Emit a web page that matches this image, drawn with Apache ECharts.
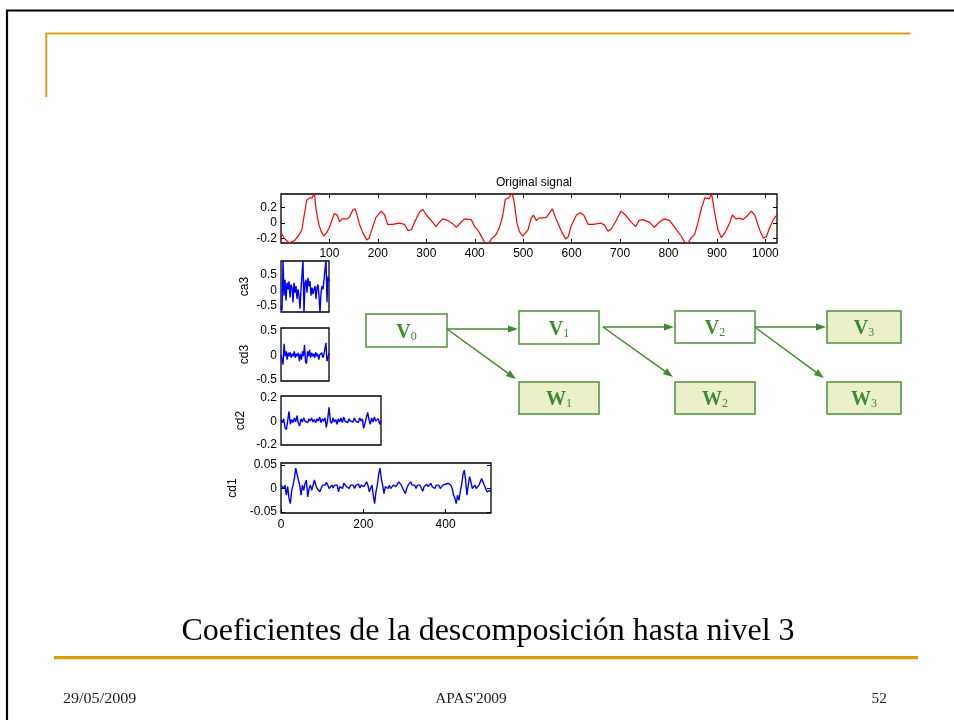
<!DOCTYPE html>
<html>
<head>
<meta charset="utf-8">
<script src="https://cdn.jsdelivr.net/npm/echarts@6/dist/echarts.min.js"></script>
<style>
  html, body { margin: 0; padding: 0; background: #fff; }
  #chart { width: 954px; height: 720px; }
</style>
</head>
<body>
<div id="chart"></div>
<script>
// ---- Original signal (sample index, amplitude) ----
const ORIG_X = [0,7,17,28,38,43,48,53,59,64,69,72,78,83,88,94,100,105,110,116,121,126,136,141,148,153,156,162,169,177,182,189,196,207,214,220,231,244,255,262,269,279,286,293,300,310,320,327,334,344,353,362,372,379,393,399,410,420,427,434,444,451,458,463,470,477,481,487,492,499,510,516,521,527,533,548,560,568,579,588,593,599,610,618,625,634,644,661,668,675,682,692,702,711,720,732,739,747,761,771,781,792,802,813,826,837,845,854,861,868,875,884,889,895,902,909,918,925,932,939,947,954,964,971,978,988,996,1002,1009,1017,1024];
const ORIG_Y = [-0.13,-0.2,-0.26,-0.23,-0.15,-0.09,0.1,0.29,0.32,0.32,0.38,0.19,-0.02,-0.11,-0.17,-0.13,-0.06,0.03,0.12,0.10,0.01,0.05,0.05,0.07,0.16,0.18,0.12,-0.02,-0.13,-0.22,-0.20,-0.06,0.07,0.15,0.10,-0.02,-0.02,-0.005,-0.02,-0.10,-0.09,0.05,0.14,0.17,0.10,0.03,-0.05,0.005,0.05,0.03,-0.005,-0.06,0.01,0.05,0.04,-0.04,-0.13,-0.25,-0.29,-0.21,-0.15,-0.06,0.10,0.30,0.32,0.38,0.28,0.005,-0.11,-0.17,-0.09,0.05,0.10,0.03,0.06,0.07,0.18,0.05,-0.11,-0.21,-0.18,-0.04,0.10,0.13,0.10,-0.02,-0.02,-0.005,-0.03,-0.11,-0.08,0.03,0.15,0.10,0.03,-0.05,0.03,0.04,0.005,-0.06,0.01,0.05,0.03,-0.06,-0.17,-0.29,-0.21,-0.15,0.005,0.19,0.32,0.31,0.37,0.14,-0.09,-0.19,-0.11,-0.02,0.10,0.05,0.06,0.04,0.10,0.15,0.10,-0.09,-0.2,-0.18,-0.06,0.05,0.10];
const ORIG_XTICKS = [100,200,300,400,500,600,700,800,900,1000];
const ORIG_YTICKS = [-0.2,0,0.2];

// ---- Level-3 approximation and details (sampled coefficients) ----
const CA3_STEP = 2.42;
const CA3 = [-0.5,-0.67,1.0,-0.18,0.35,-0.34,0.25,0.03,0.3,-0.24,0.19,0.09,-0.4,0.25,-0.08,0.14,-0.29,0.03,-0.18,-0.61,0.03,-0.02,1.0,-0.75,0.25,0.35,-0.08,0.41,0.14,0.3,-0.18,0.09,-0.13,0.03,0.14,-0.29,0.09,0.19,-0.18,-0.75,-0.08,0.14,0.03,0.35,0.68,1.0,-0.4,0.46,0.3];
const CA3_YTICKS = [-0.5,0,0.5];

const CD3_STEP = 2.42;
const CD3 = [0.01,-0.09,-0.19,0.23,-0.02,0.08,-0.09,0.05,-0.02,0.06,-0.05,0.03,-0.02,0.08,-0.05,0.03,-0.02,0.05,-0.12,0.03,-0.09,0.08,-0.02,0.21,-0.12,-0.17,0.08,-0.02,0.11,-0.05,0.05,-0.02,0.03,-0.05,0.06,-0.02,0.03,-0.09,0.01,-0.02,0.05,-0.05,0.01,-0.02,0.25,-0.12,-0.05,0.05];
const CD3_YTICKS = [-0.5,0,0.5];

const CD2_STEP = 3.25;
const CD2 = [0.016,-0.011,0.022,-0.05,-0.07,0.003,0.084,-0.024,0.016,-0.011,0.03,-0.005,0.049,-0.016,-0.038,0.022,-0.005,0.03,0.003,0.016,-0.011,0.022,0.003,0.03,-0.005,0.016,-0.011,0.022,0.003,0.038,-0.011,0.022,0.003,0.03,-0.051,0.016,0.119,0.003,-0.016,0.03,-0.005,0.016,-0.024,0.022,-0.005,0.03,-0.011,0.038,0.003,0.016,-0.011,0.022,0.003,0.016,-0.005,0.03,0.003,0.016,-0.011,0.03,0.003,0.022,-0.059,-0.065,0.03,0.076,0.016,-0.024,0.03,-0.005,0.038,0.003,0.016,0.022,-0.024,0.003];
const CD2_YTICKS = [-0.2,0,0.2];

const CD1_STEP = 3.25;
const CD1 = [0.007,0.011,0.0,0.007,-0.014,0.004,-0.021,-0.032,-0.004,0.007,0.021,0.043,0.044,0.018,0.007,-0.014,0.007,-0.004,0.011,0.018,-0.018,0.0,0.007,-0.004,0.007,0.018,0.007,0.0,0.004,-0.007,0.0,0.007,0.004,0.007,0.013,0.007,0.0,0.004,0.007,0.001,0.007,0.004,0.007,-0.007,0.004,0.007,0.0,0.011,0.007,0.004,0.007,0.0,0.007,0.004,0.007,0.0,0.007,0.004,0.009,0.001,0.007,0.011,0.004,0.009,0.014,0.007,-0.007,0.0,0.007,-0.014,-0.032,-0.007,0.007,0.029,0.043,0.021,0.007,-0.011,0.004,0.007,0.0,0.007,0.0,0.004,0.007,0.011,0.004,0.007,0.014,0.016,0.007,0.0,0.004,-0.011,0.0,0.007,0.011,0.014,0.007,0.004,0.007,0.0,0.007,0.004,0.007,0.0,-0.006,0.004,0.007,0.009,0.004,0.007,0.011,0.004,0.007,0.0,0.007,0.004,0.007,0.0,0.004,0.007,0.004,0.009,0.007,0.011,0.013,0.007,0.0,-0.014,-0.021,-0.032,-0.014,-0.025,-0.007,0.007,0.029,0.039,0.018,-0.014,0.007,0.025,0.014,0.0,-0.004,0.007,0.0,0.004,0.007,0.014,0.021,0.014,0.007,0.004,-0.007,-0.011,-0.004,-0.007];
const CD1_XTICKS = [0,200,400];
const CD1_YTICKS = [-0.05,0,0.05];

// ---- Text ----
const PLOT_TITLE = 'Original signal';
const AXIS_NAMES = ['ca3','cd3','cd2','cd1'];
const SLIDE_TITLE = 'Coeficientes de la descomposición hasta nivel 3';
const FOOTER = ['29/05/2009', "APAS'2009", '52'];

const SANS = "'Liberation Sans', Arial, sans-serif";
const SERIF = "'Liberation Serif', 'Times New Roman', serif";
const GREEN = '#3f8a2f';
const BOX_STROKE = '#4f8f3f';
const BOX_FILL = '#ebf0cb';
const GOLD = '#d6a41c';

function samples(values, step) {
  return values.map((v, i) => [i * step, v]);
}

const plain = v => String(v);
const labelStyle = { fontFamily: SANS, fontSize: 12, color: '#000', formatter: plain };

function innerTicks(values) {
  return { show: true, inside: true, length: 4, customValues: values, lineStyle: { color: '#000', width: 1 } };
}

function xAx(grid, min, max, ticks, margin, opts) {
  return Object.assign({
    type: 'value', gridIndex: grid, min: min, max: max,
    axisLine: { show: false, onZero: false },
    splitLine: { show: false },
    axisTick: ticks ? innerTicks(ticks) : { show: false },
    axisLabel: ticks ? Object.assign({ show: true, margin: margin, customValues: ticks }, labelStyle) : { show: false }
  }, opts || {});
}

function yAx(grid, min, max, ticks, name, gap, opts) {
  return Object.assign({
    type: 'value', gridIndex: grid, min: min, max: max,
    axisLine: { show: false, onZero: false },
    splitLine: { show: false },
    axisTick: { show: false, customValues: ticks },
    axisLabel: Object.assign({ show: true, margin: 4, customValues: ticks }, labelStyle),
    name: name, nameLocation: 'middle', nameGap: gap,
    nameTextStyle: { fontFamily: SANS, fontSize: 12, color: '#000' }
  }, opts || {});
}

function gridBox(left, top, width, height) {
  return { left: left, top: top, width: width, height: height, show: true,
           borderColor: '#000', borderWidth: 1.3, backgroundColor: 'transparent' };
}

// arrow with a filled head
function arrow(x1, y1, x2, y2) {
  const ang = Math.atan2(y2 - y1, x2 - x1);
  const L = 10, W = 3.6;
  const bx = x2 - L * Math.cos(ang), by = y2 - L * Math.sin(ang);
  const px = -Math.sin(ang) * W, py = Math.cos(ang) * W;
  return [
    { type: 'line', shape: { x1: x1, y1: y1, x2: bx, y2: by }, style: { stroke: GREEN, lineWidth: 1.5 } },
    { type: 'polygon', shape: { points: [[x2, y2], [bx + px, by + py], [bx - px, by - py]] }, style: { fill: GREEN } }
  ];
}

function box(x, y, w, h, filled, letter, sub) {
  return [
    { type: 'rect', shape: { x: x, y: y, width: w, height: h },
      style: { fill: filled ? BOX_FILL : '#fff', stroke: BOX_STROKE, lineWidth: 1.5 } },
    { type: 'text', x: x + w / 2, y: y + h / 2 + 1,
      style: { text: '{m|' + letter + '}{s|' + sub + '}', align: 'center', verticalAlign: 'middle',
        rich: {
          m: { fontFamily: SERIF, fontSize: 20, fontWeight: 'bold', fill: GREEN, verticalAlign: 'bottom', lineHeight: 22 },
          s: { fontFamily: SERIF, fontSize: 12, fill: GREEN, verticalAlign: 'bottom', lineHeight: 18, padding: [6, 0, 0, 0] }
        } } }
  ];
}

const graphics = [].concat(
  // slide frame
  [{ type: 'line', shape: { x1: 6, y1: 10.5, x2: 954, y2: 10.5 }, style: { stroke: '#000', lineWidth: 2.2 } },
   { type: 'line', shape: { x1: 7, y1: 10, x2: 7, y2: 720 }, style: { stroke: '#000', lineWidth: 2.2 } },
   { type: 'line', shape: { x1: 45.5, y1: 33.5, x2: 910.5, y2: 33.5 }, style: { stroke: GOLD, lineWidth: 2 } },
   { type: 'line', shape: { x1: 46.3, y1: 33, x2: 46.3, y2: 97 }, style: { stroke: GOLD, lineWidth: 2 } },
   { type: 'line', shape: { x1: 54, y1: 657.6, x2: 918, y2: 657.6 }, style: { stroke: '#d4a000', lineWidth: 3.3 } }],
  // decomposition tree
  box(366, 314, 81, 33, false, 'V', '0'),
  box(519, 311, 80, 33, false, 'V', '1'),
  box(675, 311, 80, 32, false, 'V', '2'),
  box(827, 311, 74, 32, true, 'V', '3'),
  box(519, 382, 80, 32, true, 'W', '1'),
  box(675, 382, 80, 32, true, 'W', '2'),
  box(827, 382, 74, 32, true, 'W', '3'),
  arrow(447, 329, 518, 329),
  arrow(447, 329, 516, 379),
  arrow(603, 327, 674, 327),
  arrow(603, 327, 673, 377),
  arrow(755, 327, 826, 327),
  arrow(756, 328, 824, 378),
  // slide text
  [{ type: 'text', x: 488, y: 632,
     style: { text: SLIDE_TITLE, font: '32px ' + SERIF, fill: '#000', align: 'center', verticalAlign: 'middle' } },
   { type: 'text', x: 63, y: 699, scaleX: 1.15,
     style: { text: FOOTER[0], font: '14px ' + SERIF, fill: '#222', align: 'left', verticalAlign: 'middle' } },
   { type: 'text', x: 471, y: 699, scaleX: 1.1,
     style: { text: FOOTER[1], font: '14px ' + SERIF, fill: '#222', align: 'center', verticalAlign: 'middle' } },
   { type: 'text', x: 887, y: 699, scaleX: 1.1,
     style: { text: FOOTER[2], font: '14px ' + SERIF, fill: '#222', align: 'right', verticalAlign: 'middle' } }]
);

const chart = echarts.init(document.getElementById('chart'), null, { renderer: 'canvas' });

chart.setOption({
  animation: false,
  backgroundColor: '#fff',
  title: {
    text: PLOT_TITLE, left: 529, top: 172, textAlign: 'center',
    textStyle: { fontFamily: SANS, fontSize: 12, fontWeight: 'normal', color: '#000' }
  },
  grid: [
    gridBox(281, 194, 496, 49),
    gridBox(281, 261, 48, 51),
    gridBox(281, 328, 48, 53),
    gridBox(281, 396, 100, 49),
    gridBox(281, 463, 210, 50)
  ],
  xAxis: [
    xAx(0, 0, 1024, ORIG_XTICKS, 5),
    xAx(0, 0, 1024, null, 0, { position: 'top', axisTick: innerTicks(ORIG_XTICKS) }),
    xAx(1, 0, 'dataMax', null, 0),
    xAx(2, 0, 'dataMax', null, 0),
    xAx(3, 0, 'dataMax', null, 0),
    xAx(4, 0, 'dataMax', CD1_XTICKS, 6),
    xAx(4, 0, 'dataMax', null, 0, { position: 'top', axisTick: innerTicks(CD1_XTICKS) })
  ],
  yAxis: [
    yAx(0, -0.26, 0.37, ORIG_YTICKS, '', 0, { axisTick: innerTicks(ORIG_YTICKS) }),
    yAx(0, -0.26, 0.37, ORIG_YTICKS, '', 0, { position: 'right', axisLabel: { show: false },
      axisTick: innerTicks(ORIG_YTICKS) }),
    yAx(1, -0.72, 0.97, CA3_YTICKS, AXIS_NAMES[0], 30),
    yAx(2, -0.52, 0.55, CD3_YTICKS, AXIS_NAMES[1], 30),
    yAx(3, -0.2, 0.215, CD2_YTICKS, AXIS_NAMES[2], 34),
    yAx(4, -0.052, 0.054, CD1_YTICKS, AXIS_NAMES[3], 42, { axisTick: innerTicks(CD1_YTICKS) }),
    yAx(4, -0.052, 0.054, CD1_YTICKS, '', 0, { position: 'right', axisLabel: { show: false },
      axisTick: innerTicks(CD1_YTICKS) })
  ],
  series: [
    { type: 'line', xAxisIndex: 0, yAxisIndex: 0, showSymbol: false, clip: true,
      data: ORIG_X.map((x, i) => [x, ORIG_Y[i]]),
      lineStyle: { color: '#ff0000', width: 1.2 }, itemStyle: { color: '#ff0000' } },
    { type: 'line', xAxisIndex: 2, yAxisIndex: 2, showSymbol: false, clip: true,
      data: samples(CA3, CA3_STEP), lineStyle: { color: '#0000ff', width: 1.4 } },
    { type: 'line', xAxisIndex: 3, yAxisIndex: 3, showSymbol: false, clip: true,
      data: samples(CD3, CD3_STEP), lineStyle: { color: '#0000ff', width: 1.4 } },
    { type: 'line', xAxisIndex: 4, yAxisIndex: 4, showSymbol: false, clip: true,
      data: samples(CD2, CD2_STEP), lineStyle: { color: '#0000ff', width: 1.4 } },
    { type: 'line', xAxisIndex: 5, yAxisIndex: 5, showSymbol: false, clip: true,
      data: samples(CD1, CD1_STEP), lineStyle: { color: '#0000ff', width: 1.4 } }
  ],
  graphic: graphics
});
</script>
</body>
</html>
